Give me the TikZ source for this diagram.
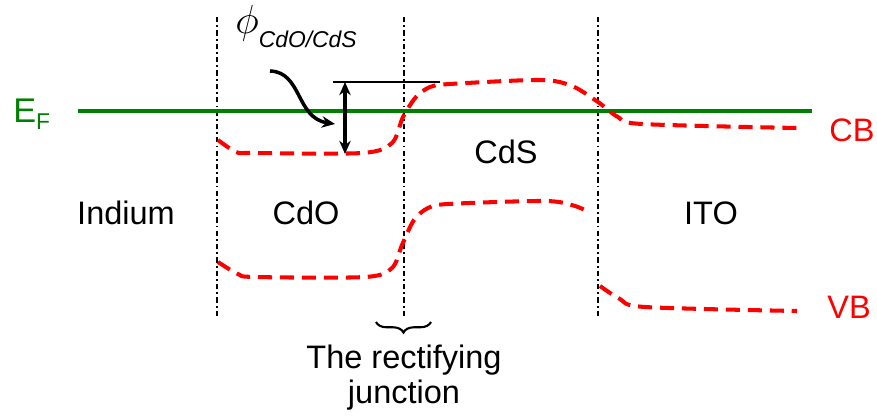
\documentclass[tikz,border=0pt]{standalone}
\usepackage{fontspec}
\setmainfont{Liberation Sans}
\usetikzlibrary{decorations.pathreplacing,arrows.meta}
\definecolor{bandred}{RGB}{255,0,0}
\definecolor{fermigreen}{RGB}{0,128,0}

\begin{document}
\begin{tikzpicture}[x=0.02cm, y=-0.02cm, >={Stealth[length=7.5pt,width=6.5pt]},
  band/.style={bandred, line width=2.3pt, dash pattern=on 8pt off 4.5pt},
  iface/.style={line width=1.5pt, dash pattern=on 3pt off 1.8pt on 1pt off 1.8pt},
  lbl/.style={font=\fontsize{18.5}{20}\selectfont}]
  \useasboundingbox (0,0) rectangle (877,419);
  % interfaces
  \foreach \x in {217,404,598}
    \draw[iface] (\x,17) -- (\x,318);
  % Fermi level
  \draw[fermigreen, line width=2.2pt] (78,111) -- (812,111);
  \node[text=fermigreen, anchor=base west, inner sep=0pt,
    font=\fontsize{19.5}{21}\selectfont] (ef) at (13,122)
    {E\raisebox{-4pt}{\fontsize{13}{14}\selectfont F}};
  % conduction band
  \draw[band] plot[smooth, tension=0.5] coordinates {(218,140) (236,152) (252,153)
    (362,153) (392,143) (403,117) (416,97) (430,87) (450,84) (540,80) (572,86)
    (598,102) (618,117) (642,124) (797,128)};
  % valence band
  \draw[band] plot[smooth, tension=0.5] coordinates {(218,262) (238,274) (255,277)
    (365,277) (392,268) (402,245) (414,220) (428,208) (448,204) (545,201)
    (575,206) (590,213)};
  \draw[band] plot[smooth, tension=0.5] coordinates {(600,286) (620,299) (645,307)
    (797,311)};
  % barrier height
  \coordinate (cbtop) at (345,82);
  \coordinate (cbmin) at (345,154);
  \draw[line width=0.9pt] (333,82) -- (440,82);
  \draw[<->, line width=2pt] (cbtop) -- (cbmin);
  \node[anchor=base west, inner sep=0pt, font=\fontsize{15}{17}\selectfont] (phi) at (235,33)
    {\scalebox{1.6}{$\phi$}\raisebox{-8pt}{\fontsize{13}{14}\selectfont\itshape CdO/CdS}};
  \coordinate (tail) at (270,71);
  \coordinate (head) at (335,124);
  \draw[->, line width=2pt] (tail) .. controls (302,72) and (296,118) .. (head);
  % labels
  \node[lbl] (indium) at (126,213) {Indium};
  \node[lbl] (cdo) at (306,213) {CdO};
  \node[lbl] (cds) at (506,152) {CdS};
  \node[lbl] (ito) at (711,213) {ITO};
  \node[lbl, text=bandred] (cb) at (852,130) {CB};
  \node[lbl, text=bandred] (vb) at (849,307) {VB};
  % junction
  \draw[decorate, decoration={brace, mirror, amplitude=6pt}, line width=1.2pt]
    (376,322) -- (431,322);
  \node[lbl, align=center, anchor=north] (junc) at (404,339) {The rectifying\\junction};
\end{tikzpicture}
\end{document}
